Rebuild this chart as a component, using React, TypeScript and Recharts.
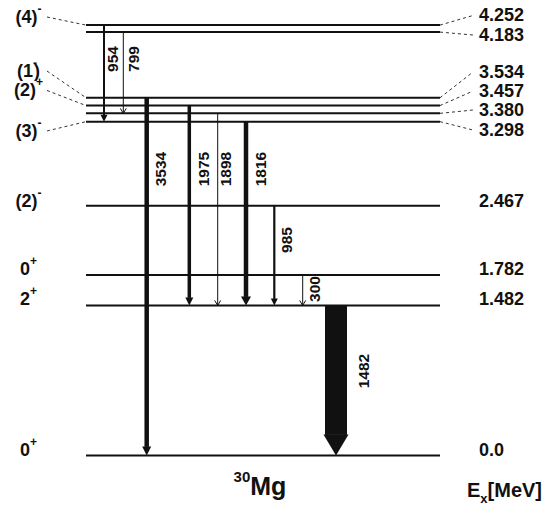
import React from "react";
import { ComposedChart, XAxis, YAxis, ReferenceLine, ReferenceDot } from "recharts";

// ---------- data ----------
const levelEnergies = [4.252, 4.183, 3.534, 3.457, 3.38, 3.298, 2.467, 1.782, 1.482, 0.0];
const levelEnergyLabels = ["4.252", "4.183", "3.534", "3.457", "3.380", "3.298", "2.467", "1.782", "1.482", "0.0"];
const levelSpinParity = ["(4)^-", "", "(1^-)", "(2)^+", "", "(3)^-", "(2)^-", "0^+", "2^+", "0^+"];

const gammaEnergies = [954, 799, 3534, 1975, 1898, 1816, 985, 300, 1482];
const gammaFrom = [4.252, 4.183, 3.534, 3.457, 3.38, 3.298, 2.467, 1.782, 1.482];
const gammaTo = [3.298, 3.38, 0.0, 1.482, 1.482, 1.482, 1.482, 1.482, 0.0];

const nucleusMass = "30";
const nucleusSymbol = "Mg";
const energyAxisTitle = { main: "E", sub: "x", unit: "[MeV]" };

// ---------- layout (x in chart units 0..559, label heights in MeV) ----------
const LEVEL_X0 = 86;
const LEVEL_X1 = 440;
const LEFT_LABEL_X = 28.5;
const LEFT_DASH_X = 47;
const RIGHT_DASH_X = 473;
const RIGHT_LABEL_X = 479;
const rightLabelE = [4.347, 4.154, 3.788, 3.6, 3.413, 3.215, 2.514, 1.842, 1.545, 0.053];
const leftLabelE = [4.332, 0, 3.798, 3.606, 0, 3.206, 2.51, 1.842, 1.545, 0.053];
const hasConnector = [true, true, true, true, true, true, false, false, false, false];

const gammaX = [104, 123.3, 146.7, 189.3, 217.7, 246, 274.3, 302.7, 336];
const gammaLabelX = [113, 134, 160.5, 203.5, 226, 261, 286.5, 315, 364];
const gammaLabelE = [3.917, 3.917, 2.829, 2.829, 2.829, 2.829, 2.128, 1.644, 0.834];
// w: shaft width, hl: head length, hw: head half width, open: thin chevron head
const gammaStyle = [
  { w: 2, hl: 7, hw: 3.5, open: false },
  { w: 1, hl: 5, hw: 3, open: true },
  { w: 4.5, hl: 9, hw: 4.5, open: false },
  { w: 3.5, hl: 8, hw: 4, open: false },
  { w: 1, hl: 5, hw: 3, open: true },
  { w: 4.5, hl: 9, hw: 5, open: false },
  { w: 2.2, hl: 7, hw: 3.5, open: false },
  { w: 1, hl: 5, hw: 3, open: true },
  { w: 22, hl: 21, hw: 12.5, open: false },
];

const FONT = '"Liberation Sans", Arial, Helvetica, sans-serif';
const INK = "#111";

function parseJpi(s: string) {
  const i = s.indexOf("^");
  if (i < 0) return { base: s, sup: "", tail: "" };
  return { base: s.slice(0, i), sup: s[i + 1], tail: s.slice(i + 2) };
}

const makeArrow = (k: number) => (props: any) => {
  const { x1, y1, y2 } = props;
  const st = gammaStyle[k];
  const x = Number(x1);
  const top = Number(y1);
  const tip = Number(y2);
  if (st.open) {
    return (
      <g>
        <line x1={x} y1={top} x2={x} y2={tip} stroke={INK} strokeWidth={st.w} />
        <polyline
          points={`${x - st.hw},${tip - st.hl} ${x},${tip} ${x + st.hw},${tip - st.hl}`}
          fill="none"
          stroke={INK}
          strokeWidth={1}
        />
      </g>
    );
  }
  const base = tip - st.hl;
  return (
    <g>
      <rect x={x - st.w / 2} y={top} width={st.w} height={Math.max(0, base - top + 0.5)} fill={INK} />
      <polygon points={`${x - st.hw},${base} ${x + st.hw},${base} ${x},${tip}`} fill={INK} />
    </g>
  );
};

const makeGammaLabel = (k: number) => (props: any) => {
  const { cx, cy } = props;
  return (
    <text
      x={cx}
      y={cy}
      transform={`rotate(-90 ${cx} ${cy})`}
      textAnchor="middle"
      dominantBaseline="central"
      fontFamily={FONT}
      fontWeight="bold"
      fontSize={15.5}
      fill={INK}
    >
      {String(gammaEnergies[k])}
    </text>
  );
};

const makeEnergyLabel = (k: number) => (props: any) => {
  const { cx, cy } = props;
  return (
    <text
      x={cx}
      y={cy}
      textAnchor="start"
      dominantBaseline="central"
      fontFamily={FONT}
      fontWeight="bold"
      fontSize={18}
      fill={INK}
    >
      {levelEnergyLabels[k]}
    </text>
  );
};

const makeSpinLabel = (k: number) => (props: any) => {
  const { cx, cy } = props;
  const p = parseJpi(levelSpinParity[k]);
  return (
    <text
      x={cx}
      y={cy}
      textAnchor="middle"
      dominantBaseline="central"
      fontFamily={FONT}
      fontWeight="bold"
      fontSize={18}
      fill={INK}
    >
      <tspan>{p.base}</tspan>
      {p.sup ? (
        <tspan fontSize={12} dy={-8}>
          {p.sup}
        </tspan>
      ) : null}
      {p.tail ? (
        <tspan dy={8} dx={-3}>
          {p.tail}
        </tspan>
      ) : null}
    </text>
  );
};

const nucleusShape = (props: any) => {
  const { cx, cy } = props;
  return (
    <text x={cx} y={cy} textAnchor="middle" fontFamily={FONT} fontWeight="bold" fill={INK}>
      <tspan fontSize={15} dy={-13}>
        {nucleusMass}
      </tspan>
      <tspan fontSize={25} dy={13}>
        {nucleusSymbol}
      </tspan>
    </text>
  );
};

const axisTitleShape = (props: any) => {
  const { cx, cy } = props;
  return (
    <text x={cx} y={cy} textAnchor="start" fontFamily={FONT} fontWeight="bold" fill={INK}>
      <tspan fontSize={20}>{energyAxisTitle.main}</tspan>
      <tspan fontSize={13} dy={6}>
        {energyAxisTitle.sub}
      </tspan>
      <tspan fontSize={20} dy={-6}>
        {energyAxisTitle.unit}
      </tspan>
    </text>
  );
};

export default function App() {
  return (
    <div style={{ position: "absolute", left: 0, top: 0, width: 559, height: 506, background: "#fff" }}>
      <ComposedChart width={559} height={506} margin={{ top: 0, right: 0, bottom: 0, left: 0 }} data={[]}>
        <XAxis type="number" dataKey="x" domain={[0, 559]} allowDataOverflow hide />
        <YAxis type="number" domain={[-0.5, 4.5]} allowDataOverflow hide />

        {/* levels */}
        {levelEnergies.map((e, i) => (
          <ReferenceLine
            key={`lvl-${i}`}
            segment={[
              { x: LEVEL_X0, y: e },
              { x: LEVEL_X1, y: e },
            ]}
            stroke={INK}
            strokeWidth={2}
            ifOverflow="extendDomain"
          />
        ))}

        {/* right dashed connectors */}
        {levelEnergies.map((e, i) =>
          hasConnector[i] ? (
            <ReferenceLine
              key={`rc-${i}`}
              segment={[
                { x: LEVEL_X1, y: e },
                { x: RIGHT_DASH_X, y: rightLabelE[i] },
              ]}
              stroke="#333"
              strokeWidth={1}
              strokeDasharray="3 3"
            />
          ) : null
        )}

        {/* left dashed connectors */}
        {levelEnergies.map((e, i) =>
          hasConnector[i] && levelSpinParity[i] ? (
            <ReferenceLine
              key={`lc-${i}`}
              segment={[
                { x: LEFT_DASH_X, y: leftLabelE[i] },
                { x: LEVEL_X0, y: e },
              ]}
              stroke="#333"
              strokeWidth={1}
              strokeDasharray="3 3"
            />
          ) : null
        )}

        {/* gamma transitions */}
        {gammaEnergies.map((g, k) => (
          <ReferenceLine
            key={`g-${k}`}
            segment={[
              { x: gammaX[k], y: gammaFrom[k] },
              { x: gammaX[k], y: gammaTo[k] },
            ]}
            shape={makeArrow(k)}
          />
        ))}

        {gammaEnergies.map((g, k) => (
          <ReferenceDot key={`gl-${k}`} x={gammaLabelX[k]} y={gammaLabelE[k]} r={1} shape={makeGammaLabel(k)} />
        ))}

        {/* energy labels */}
        {levelEnergies.map((e, i) => (
          <ReferenceDot key={`el-${i}`} x={RIGHT_LABEL_X} y={rightLabelE[i]} r={1} shape={makeEnergyLabel(i)} />
        ))}

        {/* spin-parity labels */}
        {levelEnergies.map((e, i) =>
          levelSpinParity[i] ? (
            <ReferenceDot key={`sl-${i}`} x={LEFT_LABEL_X} y={leftLabelE[i]} r={1} shape={makeSpinLabel(i)} />
          ) : null
        )}

        <ReferenceDot x={260} y={-0.391} r={1} shape={nucleusShape} />
        <ReferenceDot x={467} y={-0.411} r={1} shape={axisTitleShape} />
      </ComposedChart>
    </div>
  );
}
